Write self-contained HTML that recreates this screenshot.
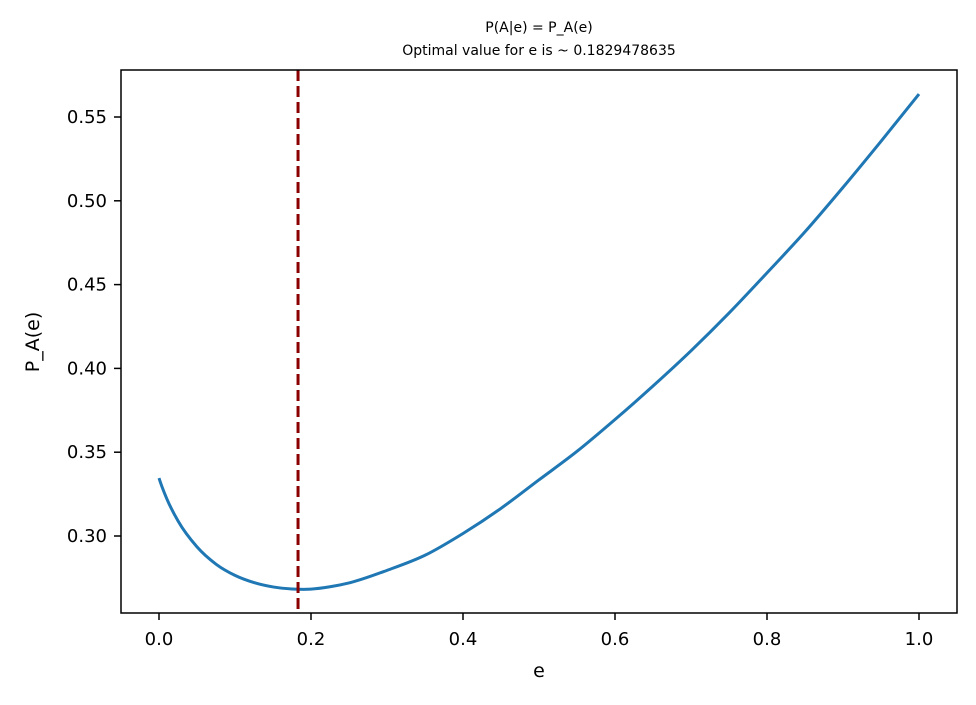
<!DOCTYPE html>
<html><head><meta charset="utf-8"><style>
body{margin:0;background:#fff;font-family:"Liberation Sans","DejaVu Sans",sans-serif;}
svg text{font-family:"DejaVu Sans","Liberation Sans",sans-serif;}
</style></head><body>
<svg id="chart" width="976" height="700">
<text x="539" y="32" font-size="14" text-anchor="middle">P(A|e) = P_A(e)</text>
<text x="539" y="55" font-size="14" text-anchor="middle">Optimal value for e is ~ 0.1829478635</text>
<g id="xt"></g>
<g id="yt"></g>
<text x="539" y="677" font-size="19" text-anchor="middle">e</text>
<text x="0" y="0" font-size="19" text-anchor="middle" transform="translate(39,342) rotate(-90)">P_A(e)</text>
<path id="line" fill="none" stroke="#1f77b4" stroke-width="3" stroke-linejoin="round"/>
<line id="opt" stroke="#8b0000" stroke-width="3" stroke-dasharray="11,5"/>
<rect x="121" y="70" width="836" height="543" fill="none" stroke="#000" stroke-width="1.5"/>
</svg>
<script>
const eVals=[0,0.01,0.025,0.05,0.075,0.1,0.125,0.15,0.175,0.2,0.225,0.25,0.3,0.35,0.4,0.45,0.5,0.55,0.6,0.65,0.7,0.75,0.8,0.85,0.9,0.95,1.0];
const pVals=[0.3346,0.3225,0.3090,0.2935,0.2832,0.2765,0.2722,0.2696,0.2684,0.2683,0.2697,0.2720,0.2795,0.2885,0.3015,0.3165,0.3335,0.3505,0.3695,0.3895,0.4105,0.4330,0.4570,0.4815,0.5080,0.5355,0.5637];
const optE=0.1829478635;
const xTicks=[0,0.2,0.4,0.6,0.8,1.0];
const xTickLabels=["0.0","0.2","0.4","0.6","0.8","1.0"];
const yTicks=[0.30,0.35,0.40,0.45,0.50,0.55];
const yTickLabels=["0.30","0.35","0.40","0.45","0.50","0.55"];
const X=v=>159+v*760;
const Y=v=>536-(v-0.30)*1676;
const ns="http://www.w3.org/2000/svg";
const xt=document.getElementById('xt'),yt=document.getElementById('yt');
xTicks.forEach((t,i)=>{
 const l=document.createElementNS(ns,'line');
 
 
 l.setAttribute('x1',X(t));l.setAttribute('x2',X(t));l.setAttribute('y1',613);l.setAttribute('y2',620);l.setAttribute('stroke','#000');l.setAttribute('stroke-width','1.5');
 xt.appendChild(l);
 const tx=document.createElementNS(ns,'text');
 
 
 tx.setAttribute('x',X(t));tx.setAttribute('y',645);tx.setAttribute('font-size','18');tx.setAttribute('text-anchor','middle');
 tx.textContent=xTickLabels[i];xt.appendChild(tx);
});
yTicks.forEach((t,i)=>{
 const l=document.createElementNS(ns,'line');
 
 
 l.setAttribute('x1',114);l.setAttribute('x2',121);l.setAttribute('y1',Y(t));l.setAttribute('y2',Y(t));l.setAttribute('stroke','#000');l.setAttribute('stroke-width','1.5');
 yt.appendChild(l);
 const tx=document.createElementNS(ns,'text');
 
 
 tx.setAttribute('x',107);tx.setAttribute('y',Y(t)+6);tx.setAttribute('font-size','18');tx.setAttribute('text-anchor','end');
 tx.textContent=yTickLabels[i];yt.appendChild(tx);
});
const pts=eVals.map((e,i)=>[X(e),Y(pVals[i])]);
const n=pts.length;
const tang=pts.map((p,i)=>{
 if(i===0){const b=pts[1];return 1.2*(b[1]-p[1])/(b[0]-p[0]);}
 if(i===n-1){const a=pts[n-2];return (p[1]-a[1])/(p[0]-a[0]);}
 const a=pts[i-1],b=pts[i+1];
 const h0=p[0]-a[0],h1=b[0]-p[0];
 const s0=(p[1]-a[1])/h0,s1=(b[1]-p[1])/h1;
 return (s0*h1+s1*h0)/(h0+h1);
});
let d='M'+pts[0][0]+','+pts[0][1];
for(let i=0;i<n-1;i++){
 const p1=pts[i],p2=pts[i+1],h=(p2[0]-p1[0])/3;
 d+=' C'+(p1[0]+h)+','+(p1[1]+tang[i]*h)+' '+(p2[0]-h)+','+(p2[1]-tang[i+1]*h)+' '+p2[0]+','+p2[1];
}
document.getElementById('line').setAttribute('d',d);
const o=document.getElementById('opt');
o.setAttribute('x1',X(optE));o.setAttribute('x2',X(optE));o.setAttribute('y1',70);o.setAttribute('y2',613);
</script>
</body></html>
